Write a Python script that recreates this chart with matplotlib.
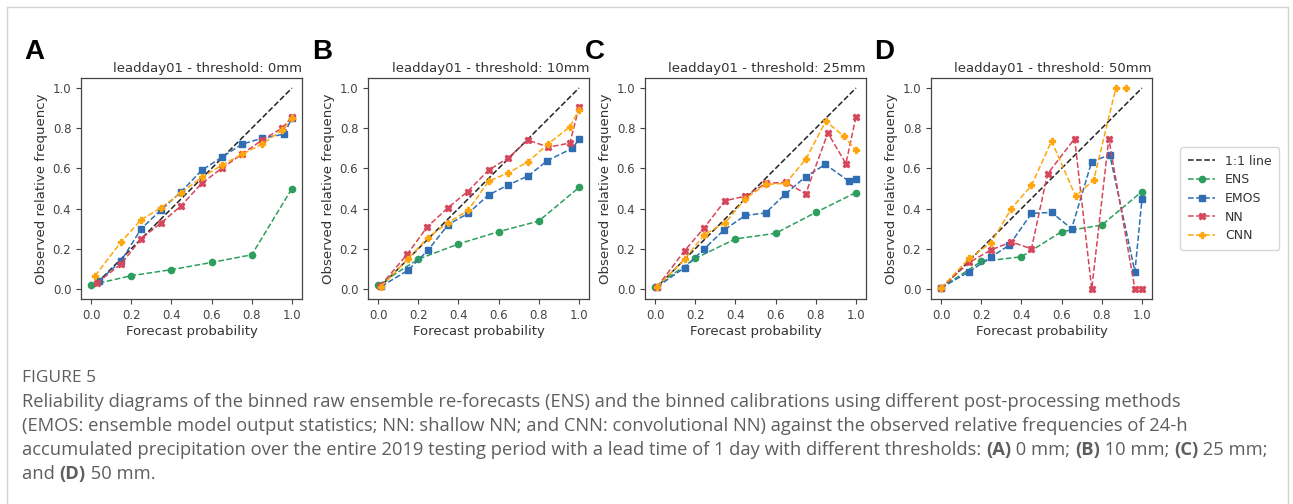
import matplotlib.pyplot as plt
from matplotlib.lines import Line2D

# ---- data ----
thresholds = ["0mm", "10mm", "25mm", "50mm"]
panel_letters = ["A", "B", "C", "D"]

ens_x = [0.0, 0.2, 0.4, 0.6, 0.8, 1.0]
ens_y_0mm = [0.02, 0.066, 0.096, 0.132, 0.17, 0.50]
ens_y_10mm = [0.02, 0.148, 0.224, 0.285, 0.338, 0.505]
ens_y_25mm = [0.01, 0.152, 0.249, 0.277, 0.381, 0.48]
ens_y_50mm = [0.005, 0.137, 0.16, 0.285, 0.318, 0.485]

emos_x_0mm = [0.04, 0.15, 0.25, 0.35, 0.45, 0.55, 0.65, 0.75, 0.85, 0.96, 1.0]
emos_y_0mm = [0.04, 0.14, 0.30, 0.395, 0.485, 0.59, 0.655, 0.72, 0.75, 0.77, 0.85]
nn_x_0mm = [0.03, 0.15, 0.25, 0.35, 0.45, 0.55, 0.65, 0.75, 0.85, 0.95, 1.0]
nn_y_0mm = [0.03, 0.125, 0.25, 0.33, 0.415, 0.525, 0.60, 0.67, 0.74, 0.80, 0.855]
cnn_x_0mm = [0.02, 0.15, 0.25, 0.35, 0.45, 0.55, 0.65, 0.75, 0.85, 0.95, 1.0]
cnn_y_0mm = [0.065, 0.235, 0.345, 0.405, 0.48, 0.555, 0.615, 0.67, 0.72, 0.79, 0.85]

emos_x_10mm = [0.016, 0.148, 0.249, 0.349, 0.448, 0.55, 0.649, 0.748, 0.843, 0.967, 1.0]
emos_y_10mm = [0.013, 0.092, 0.193, 0.32, 0.376, 0.468, 0.518, 0.563, 0.639, 0.70, 0.744]
nn_x_10mm = [0.012, 0.145, 0.245, 0.348, 0.446, 0.55, 0.649, 0.746, 0.848, 0.955, 1.0]
nn_y_10mm = [0.016, 0.172, 0.309, 0.404, 0.485, 0.591, 0.653, 0.741, 0.706, 0.726, 0.904]
cnn_x_10mm = [0.016, 0.147, 0.249, 0.349, 0.448, 0.55, 0.649, 0.748, 0.848, 0.955, 1.0]
cnn_y_10mm = [0.012, 0.148, 0.256, 0.33, 0.391, 0.536, 0.578, 0.634, 0.723, 0.807, 0.891]

emos_x_25mm = [0.01, 0.147, 0.243, 0.345, 0.45, 0.55, 0.648, 0.75, 0.848, 0.965, 1.0]
emos_y_25mm = [0.01, 0.106, 0.198, 0.295, 0.366, 0.378, 0.472, 0.559, 0.62, 0.536, 0.548]
nn_x_25mm = [0.01, 0.147, 0.245, 0.348, 0.45, 0.55, 0.65, 0.75, 0.86, 0.95, 1.0]
nn_y_25mm = [0.01, 0.19, 0.305, 0.439, 0.462, 0.525, 0.531, 0.474, 0.776, 0.624, 0.856]
cnn_x_25mm = [0.01, 0.147, 0.245, 0.35, 0.45, 0.55, 0.65, 0.75, 0.85, 0.94, 1.0]
cnn_y_25mm = [0.01, 0.148, 0.27, 0.33, 0.45, 0.52, 0.526, 0.645, 0.835, 0.76, 0.69]

emos_x_50mm = [0.0, 0.14, 0.25, 0.34, 0.45, 0.55, 0.65, 0.75, 0.84, 0.965, 1.0]
emos_y_50mm = [0.005, 0.086, 0.16, 0.218, 0.376, 0.381, 0.30, 0.634, 0.667, 0.086, 0.447]
nn_x_50mm = [0.0, 0.14, 0.25, 0.35, 0.45, 0.53, 0.665, 0.75, 0.835, 0.965, 1.0]
nn_y_50mm = [0.005, 0.132, 0.195, 0.234, 0.20, 0.573, 0.748, 0.0, 0.748, 0.0, 0.0]
cnn_x_50mm = [0.0, 0.14, 0.25, 0.35, 0.45, 0.55, 0.67, 0.76, 0.87, 0.92]
cnn_y_50mm = [0.005, 0.152, 0.231, 0.40, 0.515, 0.736, 0.462, 0.543, 1.0, 1.0]

ens_ys = [ens_y_0mm, ens_y_10mm, ens_y_25mm, ens_y_50mm]
emos_xy = [(emos_x_0mm, emos_y_0mm), (emos_x_10mm, emos_y_10mm),
           (emos_x_25mm, emos_y_25mm), (emos_x_50mm, emos_y_50mm)]
nn_xy = [(nn_x_0mm, nn_y_0mm), (nn_x_10mm, nn_y_10mm),
         (nn_x_25mm, nn_y_25mm), (nn_x_50mm, nn_y_50mm)]
cnn_xy = [(cnn_x_0mm, cnn_y_0mm), (cnn_x_10mm, cnn_y_10mm),
          (cnn_x_25mm, cnn_y_25mm), (cnn_x_50mm, cnn_y_50mm)]

c_ens = "#2e9e5e"
c_emos = "#2f6eb2"
c_nn = "#d6475c"
c_cnn = "#ffa60f"
txt = "#333333"

plt.rcParams["font.family"] = ["DejaVu Sans"]

W, H = 1293, 504
fig = plt.figure(figsize=(W / 100, H / 100), dpi=100)

axes_left = [81, 368, 645, 931]
letter_x = [24, 312, 585, 874]
ax_w, ax_top, ax_bot = 221, 78, 299

for i in range(4):
    ax = fig.add_axes([axes_left[i] / W, 1 - ax_bot / H, ax_w / W, (ax_bot - ax_top) / H])
    ax.plot([0, 1], [0, 1], ls="--", color="#222222", lw=1.1, label="1:1 line")
    ax.plot(ens_x, ens_ys[i], ls="--", marker="o", color=c_ens, ms=4.5, lw=1.1, label="ENS")
    ax.plot(*emos_xy[i], ls="--", marker="s", color=c_emos, ms=4.5, lw=1.1, label="EMOS")
    ax.plot(*nn_xy[i], ls="--", marker="X", color=c_nn, ms=5, lw=1.1, label="NN")
    ax.plot(*cnn_xy[i], ls="--", marker="P", color=c_cnn, ms=5, lw=1.1, label="CNN")
    ax.set_xticks([0, 0.2, 0.4, 0.6, 0.8, 1.0])
    ax.set_yticks([0, 0.2, 0.4, 0.6, 0.8, 1.0])
    ax.tick_params(labelsize=8.5, colors="#444444", length=3.5, width=0.8)
    for s in ax.spines.values():
        s.set_color("#444444")
        s.set_linewidth(0.9)
    ax.set_xlabel("Forecast probability", fontsize=9.5, color=txt, labelpad=2)
    ax.set_ylabel("Observed relative frequency", fontsize=9.5, color=txt, labelpad=3)
    ax.set_title("leadday01 - threshold: " + thresholds[i], loc="right",
                 fontsize=9.5, color=txt, pad=4)
    fig.text(letter_x[i] / W, 1 - 52 / H, panel_letters[i], fontsize=20,
             fontweight="bold", family="Liberation Sans", va="center", ha="left")
    if i == 3:
        handles, labels = ax.get_legend_handles_labels()

leg = fig.legend(handles, labels, loc="upper left", bbox_to_anchor=(1174 / W, 1 - 141 / H),
                 fontsize=9, frameon=True, handlelength=2.2, borderpad=0.6,
                 labelspacing=0.45, fancybox=True)
leg.get_frame().set_edgecolor("#cccccc")
for t in leg.get_texts():
    t.set_color(txt)

# outer frame of the figure panel
fc = "#d3d3d3"
fig.add_artist(Line2D([7 / W, 1288 / W], [1 - 7 / H, 1 - 7 / H], color=fc, lw=1))
fig.add_artist(Line2D([7 / W, 7 / W], [0, 1 - 7 / H], color=fc, lw=1))
fig.add_artist(Line2D([1288 / W, 1288 / W], [0, 1 - 7 / H], color=fc, lw=1))

# caption
cap_col = "#5e5e5e"
cap_font = "Open Sans"
cap_size = 13.2
fig.text(22 / W, 1 - 378 / H, "FIGURE 5", fontsize=12.5, color=cap_col,
         family=cap_font, va="center")

lines = [
    [("Reliability diagrams of the binned raw ensemble re-forecasts (ENS) and the binned calibrations using different post-processing methods", "normal")],
    [("(EMOS: ensemble model output statistics; NN: shallow NN; and CNN: convolutional NN) against the observed relative frequencies of 24-h", "normal")],
    [("accumulated precipitation over the entire 2019 testing period with a lead time of 1 day with different thresholds: ", "normal"),
     ("(A)", "bold"), (" 0 mm; ", "normal"), ("(B)", "bold"), (" 10 mm; ", "normal"),
     ("(C)", "bold"), (" 25 mm;", "normal")],
    [("and ", "normal"), ("(D)", "bold"), (" 50 mm.", "normal")],
]
line_y = [402, 426, 450, 474]

renderer = fig.canvas.get_renderer()
for segs, yy in zip(lines, line_y):
    x = 22
    for s, w in segs:
        t = fig.text(x / W, 1 - yy / H, s, fontsize=cap_size, color=cap_col,
                     family=cap_font, weight=w, va="center", ha="left")
        bb = t.get_window_extent(renderer)
        x += bb.width

fig.savefig("out.png", dpi=100)
